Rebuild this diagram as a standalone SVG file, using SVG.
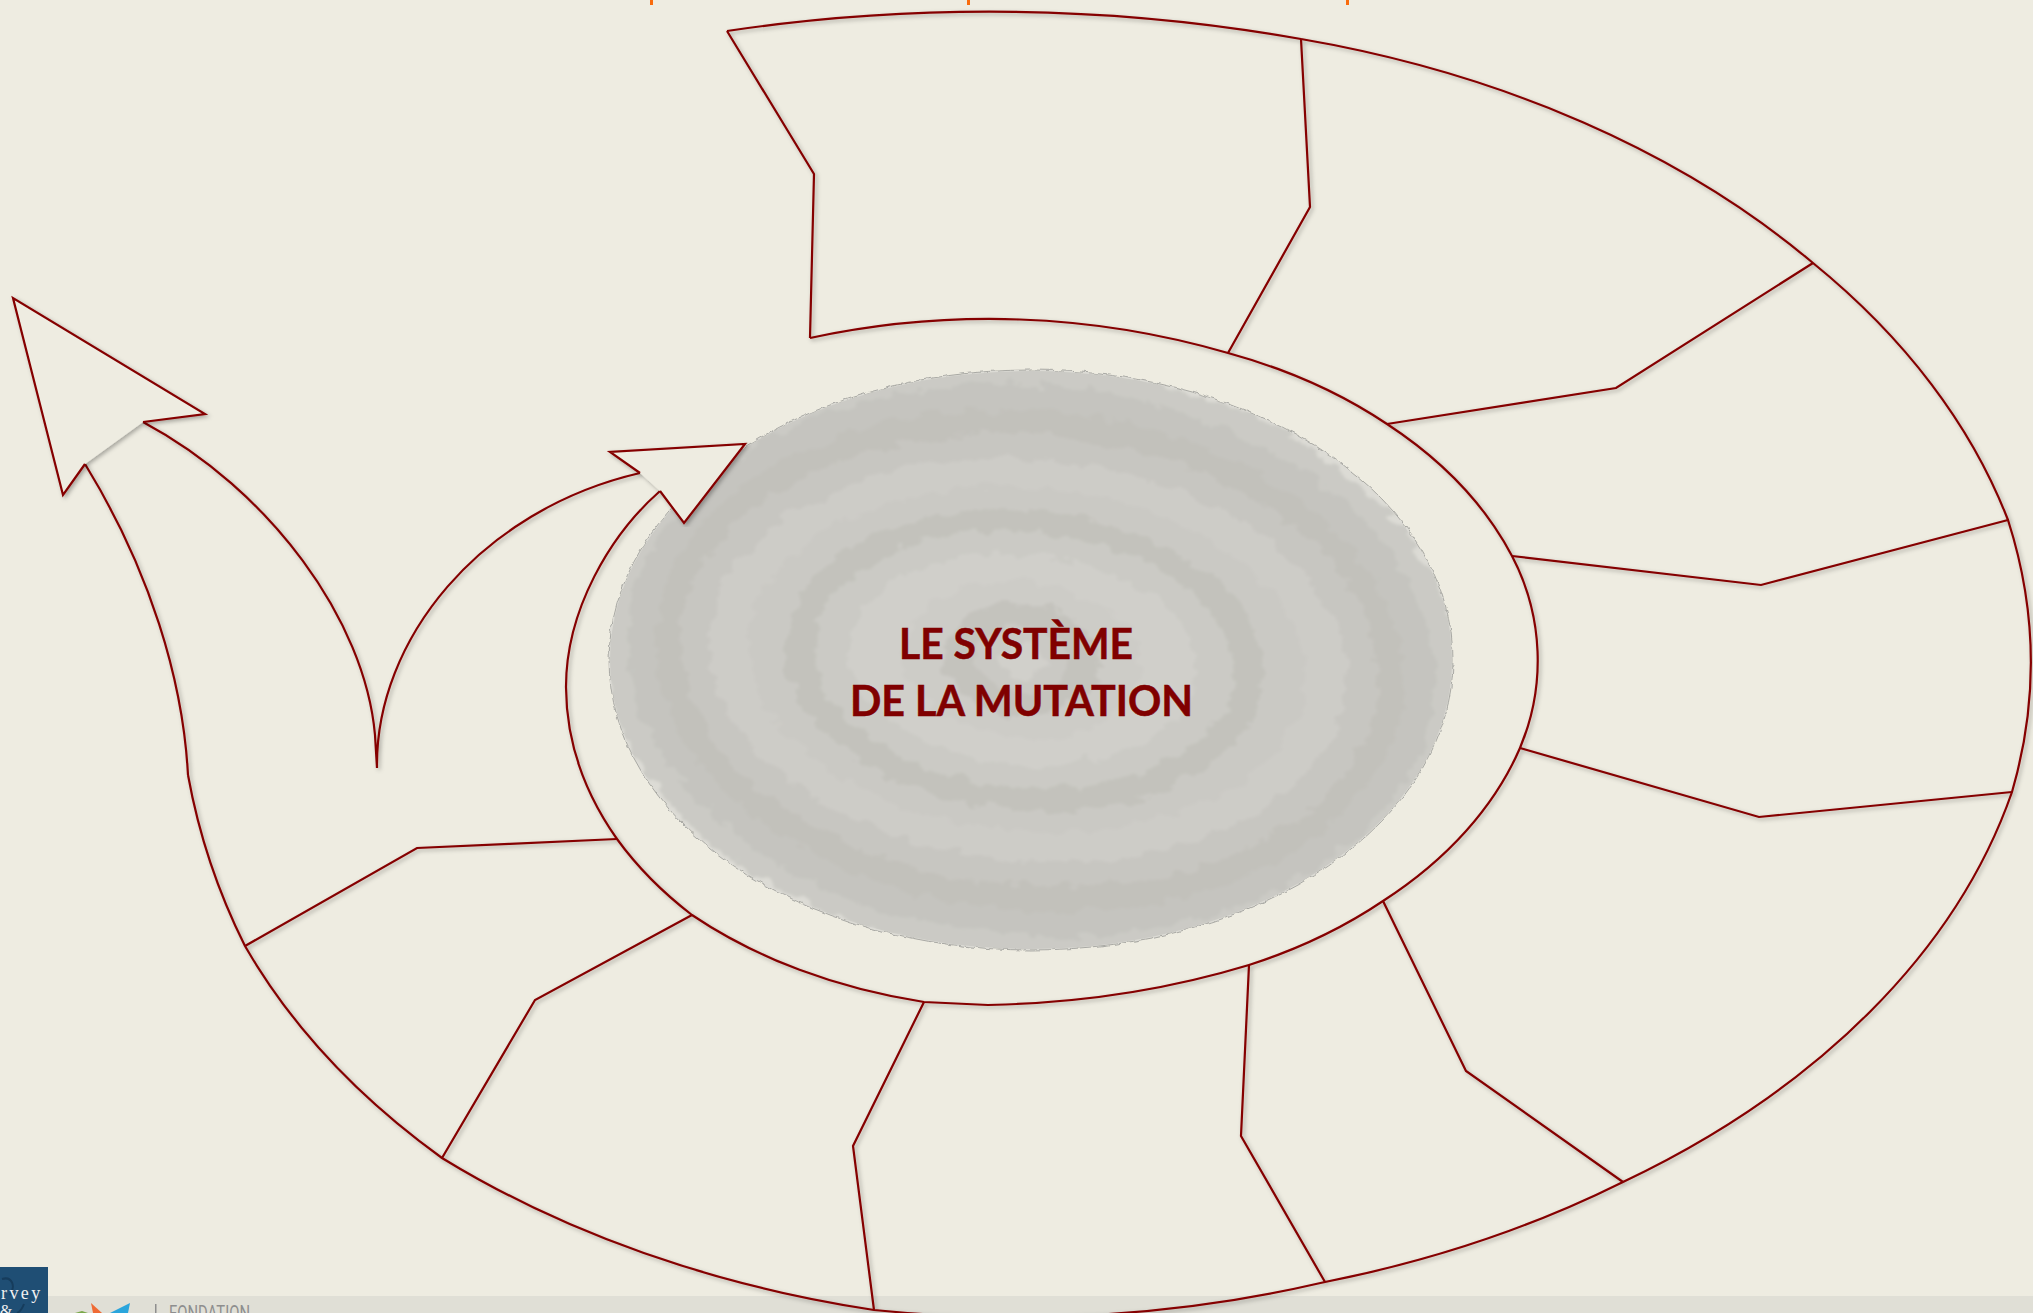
<svg xmlns="http://www.w3.org/2000/svg" width="2033" height="1313" viewBox="0 0 2033 1313">
<style>
.ln{fill:none;stroke:#850000;stroke-width:2.2;stroke-linejoin:miter}
.arr{fill:#eeece1;stroke:none}
.disc ellipse{stroke:none}
text{font-family:"Lato","Liberation Sans",sans-serif}
.title{font-weight:700;font-size:42px;fill:#800000;stroke:#800000;stroke-width:.5}
</style>
<defs>
<filter id="sh" x="-5%" y="-5%" width="110%" height="110%"><feDropShadow dx="2" dy="2" stdDeviation="2" flood-color="#000" flood-opacity=".3"/></filter>
<filter id="rough" x="-5%" y="-5%" width="110%" height="110%"><feTurbulence type="fractalNoise" baseFrequency=".05 .07" numOctaves="3" seed="4"/><feDisplacementMap in="SourceGraphic" scale="20" xChannelSelector="R" yChannelSelector="G"/><feGaussianBlur stdDeviation="1.6"/></filter>
<filter id="edge" x="-5%" y="-5%" width="110%" height="110%"><feTurbulence type="fractalNoise" baseFrequency=".12" numOctaves="2" seed="7"/><feDisplacementMap in="SourceGraphic" scale="5" xChannelSelector="R" yChannelSelector="G"/></filter>
<clipPath id="discclip"><ellipse cx="1031" cy="660" rx="421" ry="289"/></clipPath>
</defs>
<rect width="2033" height="1313" fill="#eeece1"/>
<g id="page-ticks" fill="#f96b0c"><rect x="650" y="0" width="3" height="5"/><rect x="967" y="0" width="3" height="5"/><rect x="1346" y="0" width="3" height="5"/></g>
<g id="footer">
<rect x="0" y="1296" width="2033" height="17" fill="#e0dfd6"/>
<rect x="0" y="1267" width="48" height="46" fill="#1f4e74"/>
<path d="M2,1279 C12,1276 16,1286 10,1295 M24,1304 C22,1309 20,1312 17,1313" fill="none" stroke="#163c5c" stroke-width="2"/>
<text x="1" y="1299" font-size="18" letter-spacing="2.4" fill="#f0f0f0" style="font-family:'Liberation Serif',serif">rvey</text>
<text x="0" y="1316" font-size="16" fill="#f0f0f0" style="font-family:'Liberation Serif',serif">&amp;</text>
<polygon points="91,1303 102,1313 93,1313" fill="#ef6a34"/><polygon points="110,1313 130,1303 128,1313" fill="#2aa5dc"/><polygon points="75,1313 82,1311 88,1313" fill="#7aa84a"/>
<rect x="155" y="1304" width="1.5" height="9" fill="#8e8e8e"/>
<text x="169" y="1320" font-size="21" textLength="81" lengthAdjust="spacingAndGlyphs" fill="#8e8e8e" style="font-family:Roboto,sans-serif">FONDATION</text>
</g>
<g id="disc" class="disc">
<ellipse cx="1031" cy="660" rx="422" ry="290" fill="#dcdbd5" style="stroke:#a9a9a4;stroke-width:1" filter="url(#edge)"/>
<g clip-path="url(#discclip)">
<g filter="url(#rough)" transform="rotate(5 1025 660)">
<ellipse cx="1031" cy="660" rx="430" ry="296" fill="#cbcac5"/>
<ellipse cx="1031" cy="660" rx="405" ry="275" fill="#c5c4bf"/>
<ellipse cx="1030" cy="660" rx="375" ry="250" fill="#c2c1bb"/>
<ellipse cx="1029" cy="660" rx="350" ry="225" fill="#c7c6c1"/>
<ellipse cx="1028" cy="660" rx="320" ry="200" fill="#cdccc7"/>
<ellipse cx="1026" cy="660" rx="280" ry="172" fill="#cac9c4"/>
<ellipse cx="1025" cy="660" rx="240" ry="150" fill="#c3c2bc"/>
<ellipse cx="1024" cy="660" rx="210" ry="128" fill="#cbcac5"/>
<ellipse cx="1023" cy="660" rx="175" ry="105" fill="#d0cfca"/>
<ellipse cx="1022" cy="660" rx="120" ry="78" fill="#cdccc7"/>
<ellipse cx="1022" cy="660" rx="78" ry="56" fill="#c4c3bd"/>
<ellipse cx="1022" cy="660" rx="48" ry="34" fill="#cac9c4"/>
<ellipse cx="1022" cy="660" rx="22" ry="16" fill="#d1d0cb"/>
</g>
</g>
</g>
<g id="connectors" filter="url(#sh)">
<path class="ln" d="M1301,39 A960 660 0 0 1 1813,263 A960 660 0 0 1 2008,520 A960 660 0 0 1 2012,792 A960 660 0 0 1 1623,1182 A960 660 0 0 1 1325,1282 A960 660 0 0 1 874,1310 A960 660 0 0 1 442,1158 A960 660 0 0 1 245,946 A600 620 0 0 1 188,775"/>
<path class="ln" d="M727,31 A1200 800 0 0 1 1301,39"/>
<path class="ln" d="M188,775 C183,680 150,570 85,464"/>
<path class="ln" d="M143,422 C270,490 365,620 375,735 L377,768 C375,640 480,510 640,473"/>
<path class="ln" d="M810,338 A853 853 0 0 1 1228,353 A485 343 0 0 1 1387,424 A485 343 0 0 1 1512,556 A225 225 0 0 1 1520,748 A485 343 0 0 1 1383,901 A485 343 0 0 1 1249,965 A600 343 0 0 1 988,1005 L924,1002 A485 343 0 0 1 692,915 A485 343 0 0 1 617,839 A485 343 0 0 1 566,687 C566,610 610,535 660,491"/>
<path class="ln" d="M727,31 L814,174 L810,338"/>
<path class="ln" d="M1301,39 L1310,207 L1228,353"/>
<path class="ln" d="M1813,263 L1616,388 L1387,424"/>
<path class="ln" d="M2008,520 L1761,585 L1512,556"/>
<path class="ln" d="M2012,792 L1759,817 L1520,748"/>
<path class="ln" d="M1623,1182 L1466,1071 L1383,901"/>
<path class="ln" d="M1325,1282 L1241,1136 L1249,965"/>
<path class="ln" d="M874,1310 L853,1146 L924,1002"/>
<path class="ln" d="M442,1158 L535,1000 L692,915"/>
<path class="ln" d="M245,946 L417,848 L617,839"/>
</g>
<g id="arrow-outer" filter="url(#sh)">
<polygon class="arr" points="13,298 205,414 143,422 85,464 63,495"/>
<polyline class="ln" points="143,422 205,414 13,298 63,495 85,464"/>
</g>
<g id="arrow-inner" filter="url(#sh)">
<polygon class="arr" points="610,452 745,444 684,523 660,491 640,473"/>
<polyline class="ln" points="640,473 610,452 745,444 684,523 660,491"/>
</g>
<g id="center-label">
<text class="title" x="899" y="659" textLength="234" lengthAdjust="spacingAndGlyphs">LE SYSTÈME</text>
<text class="title" x="850" y="716" textLength="343" lengthAdjust="spacingAndGlyphs">DE LA MUTATION</text>
</g>
</svg>
